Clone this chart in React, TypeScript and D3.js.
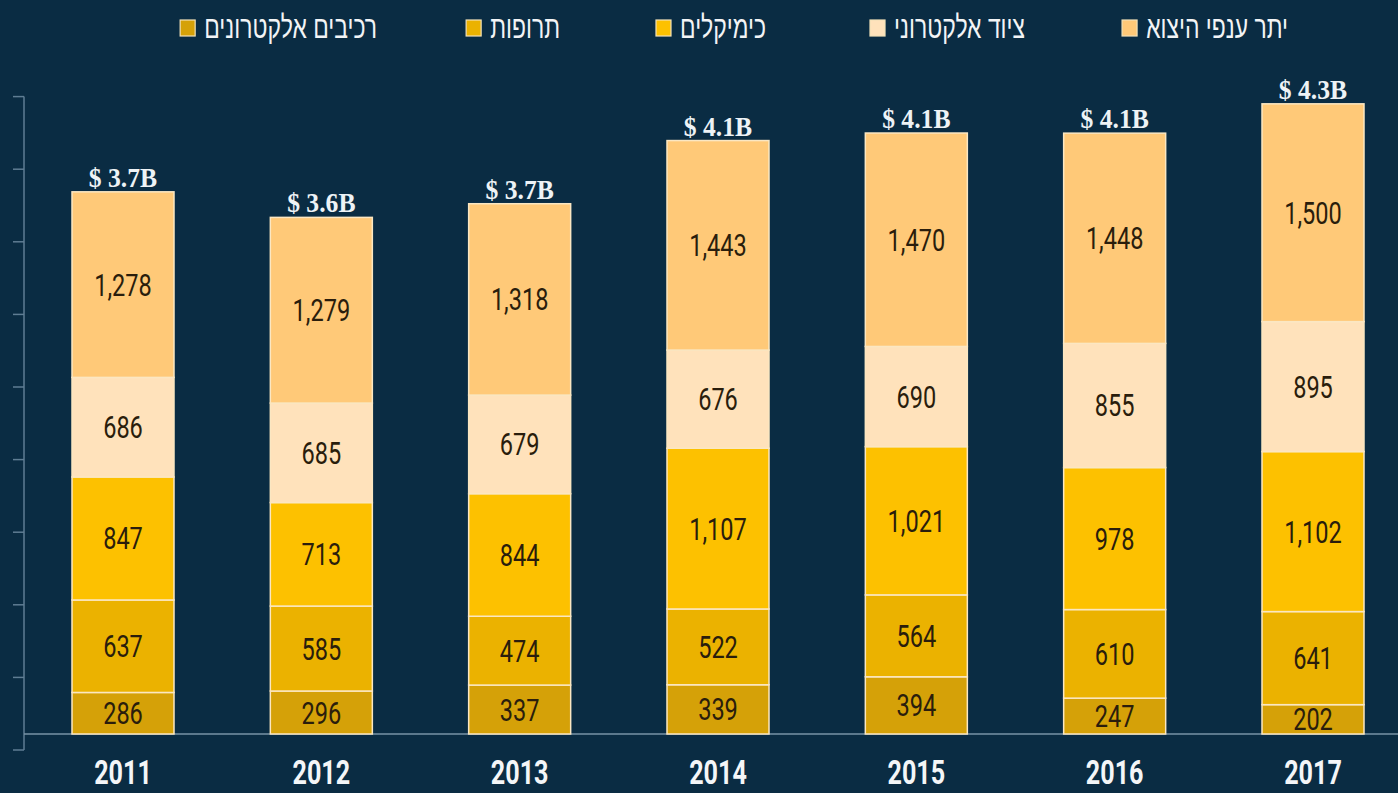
import React from "react";
import * as d3 from "d3";

const years = ["2011", "2012", "2013", "2014", "2015", "2016", "2017"];
const otherSectors = [1278, 1279, 1318, 1443, 1470, 1448, 1500];
const electronicEquipment = [686, 685, 679, 676, 690, 855, 895];
const chemicals = [847, 713, 844, 1107, 1021, 978, 1102];
const pharmaceuticals = [637, 585, 474, 522, 564, 610, 641];
const electronicComponents = [286, 296, 337, 339, 394, 247, 202];
const totalLabels = ["$ 3.7B", "$ 3.6B", "$ 3.7B", "$ 4.1B", "$ 4.1B", "$ 4.1B", "$ 4.3B"];
const axisTicks = [0, 500, 1000, 1500, 2000, 2500, 3000, 3500, 4000, 4500];

const seriesKeys = ["components", "pharma", "chemicals", "equipment", "other"];
const seriesNames: Record<string, string> = {
  other: "יתר ענפי היצוא",
  equipment: "ציוד אלקטרוני",
  chemicals: "כימיקלים",
  pharma: "תרופות",
  components: "רכיבים אלקטרונים",
};
const seriesColors: Record<string, string> = {
  other: "#ffc978",
  equipment: "#ffe2bb",
  chemicals: "#fdc100",
  pharma: "#ebb200",
  components: "#d5a108",
};
const legendOrder = ["other", "equipment", "chemicals", "pharma", "components"];

const W = 1398;
const H = 793;
const BASE = 734;
const PX_PER_UNIT = 0.1452;
const BAR_W = 102;
const BG = "#0a2c43";

let canvasCtx: CanvasRenderingContext2D | null = null;
function measure(text: string, font: string) {
  if (!canvasCtx) canvasCtx = document.createElement("canvas").getContext("2d");
  if (!canvasCtx) return text.length * 10;
  canvasCtx.font = font;
  return canvasCtx.measureText(text).width;
}

function CText({ x, y, sx, children, ...rest }: any) {
  return (
    <g transform={`translate(${x},${y}) scale(${sx},1)`}>
      <text x={0} y={0} {...rest}>
        {children}
      </text>
    </g>
  );
}

export default function App() {
  const rows = years.map((yr, i) => ({
    year: yr,
    other: otherSectors[i],
    equipment: electronicEquipment[i],
    chemicals: chemicals[i],
    pharma: pharmaceuticals[i],
    components: electronicComponents[i],
  }));
  const stacked = d3.stack<any>().keys(seriesKeys)(rows);

  const y = d3.scaleLinear().domain([0, 4500]).range([BASE, BASE - 4500 * PX_PER_UNIT]);
  const axisY = d3.scaleLinear().domain([0, 4500]).range([750, 750 - 4500 * PX_PER_UNIT]);
  const x = d3.scalePoint<string>().domain(years).range([123, 1313]);
  const fmt = d3.format(",");

  const legendRight = [1288, 1025, 766, 560, 377];
  const legendFontSize = 31;
  const legendSx = 0.74;
  const legendFont = `${legendFontSize}px "Liberation Sans", Arial, sans-serif`;

  return (
    <svg width={W} height={H} style={{ display: "block", position: "absolute", left: 0, top: 0 }}>
      <rect x={0} y={0} width={W} height={H} fill={BG} />

      {/* legend */}
      {legendOrder.map((k, i) => {
        const name = seriesNames[k];
        const w = measure(name, legendFont) * legendSx;
        const right = legendRight[i];
        const left = right - w;
        return (
          <g key={k}>
            <rect x={left - 9 - 15} y={20} width={15} height={16} fill={seriesColors[k]} stroke="#f3e2b8" strokeWidth={1.2} />
            <CText
              x={right}
              y={38}
              sx={legendSx}
              textAnchor="end"
              fill="#f2f4f6"
              style={{ font: legendFont }}
            >
              {name}
            </CText>
          </g>
        );
      })}

      {/* axis */}
      <line x1={24} x2={24} y1={axisY(4500)} y2={axisY(0)} stroke="#5f7d93" strokeWidth={1.5} />
      {axisTicks.map((t) => (
        <line key={t} x1={13} x2={24} y1={axisY(t)} y2={axisY(t)} stroke="#5f7d93" strokeWidth={1.5} />
      ))}
      <line x1={24} x2={W} y1={BASE} y2={BASE} stroke="#7893a6" strokeWidth={1.5} />

      {/* bars */}
      {stacked.map((layer) => (
        <g key={layer.key}>
          {layer.map((d, i) => {
            const cx = x(years[i]) as number;
            const y0 = y(d[0]);
            const y1 = y(d[1]);
            return (
              <g key={i}>
                <rect
                  x={cx - BAR_W / 2}
                  y={y1}
                  width={BAR_W}
                  height={y0 - y1}
                  fill={seriesColors[layer.key]}
                  stroke="#fbe7c2"
                  strokeWidth={1.5}
                />
                <CText
                  x={cx}
                  y={(y0 + y1) / 2 + 11}
                  sx={0.76}
                  textAnchor="middle"
                  fill="#2a1d0c"
                  style={{ font: `400 31px Roboto, "DejaVu Sans", sans-serif` }}
                >
                  {fmt(d[1] - d[0])}
                </CText>
              </g>
            );
          })}
        </g>
      ))}

      {/* totals */}
      {rows.map((r, i) => {
        const total = r.other + r.equipment + r.chemicals + r.pharma + r.components;
        return (
          <CText
            key={r.year}
            x={x(r.year) as number}
            y={y(total) - 5}
            sx={0.95}
            textAnchor="middle"
            fill="#eef3f6"
            style={{ font: `700 27px "Liberation Serif", "DejaVu Serif", serif` }}
          >
            {totalLabels[i]}
          </CText>
        );
      })}

      {/* year labels */}
      {years.map((yr) => (
        <CText
          key={yr}
          x={x(yr) as number}
          y={784}
          sx={0.74}
          textAnchor="middle"
          fill="#f4f6f8"
          style={{ font: `700 34px Roboto, "DejaVu Sans", sans-serif` }}
        >
          {yr}
        </CText>
      ))}
    </svg>
  );
}
